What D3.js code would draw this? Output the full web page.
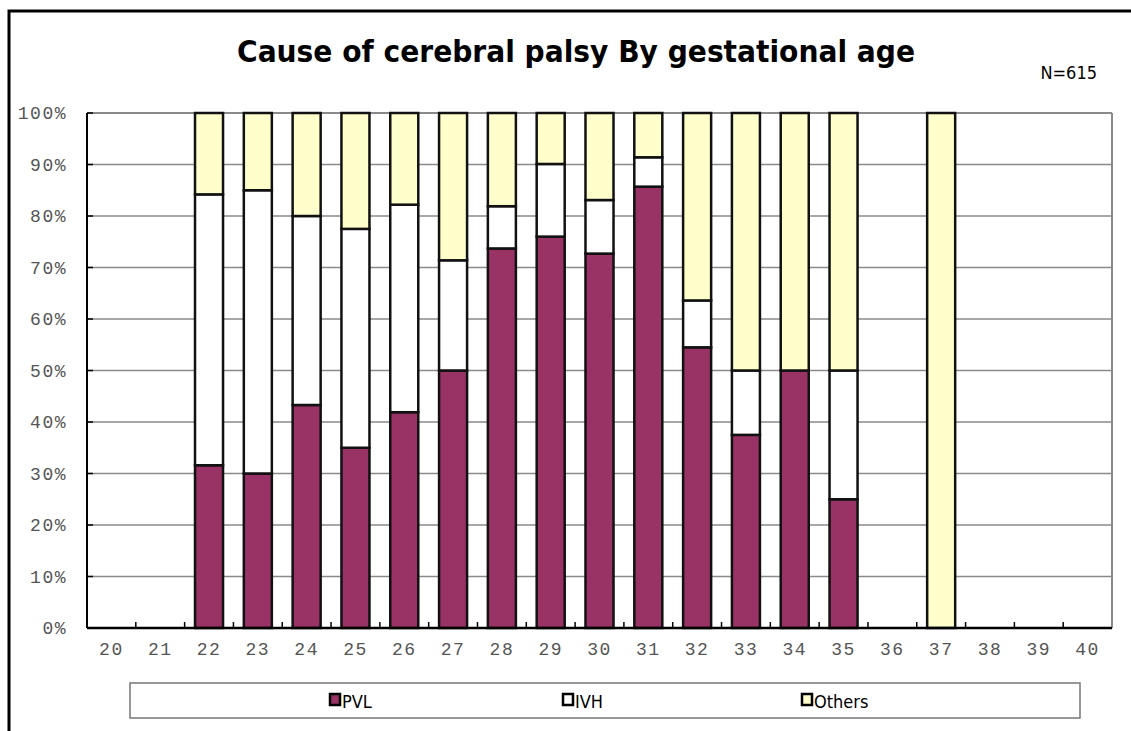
<!DOCTYPE html>
<html>
<head>
<meta charset="utf-8">
<script src="https://cdn.jsdelivr.net/npm/d3@7"></script>
<style>
  body { margin: 0; background: #fff; }
  svg { display: block; }
</style>
</head>
<body>
<div id="root"></div>
<script>
const ages = ["20","21","22","23","24","25","26","27","28","29","30","31","32","33","34","35","36","37","38","39","40"];
const pvl    = [0, 0, 31.6, 30.0, 43.3, 35.0, 41.9, 50.0, 73.7, 76.0, 72.7, 85.7, 54.5, 37.5, 50.0, 25.0, 0, 0,   0, 0, 0];
const ivh    = [0, 0, 52.6, 55.0, 36.7, 42.5, 40.3, 21.4,  8.2, 14.1, 10.4,  5.7,  9.1, 12.5,  0.0, 25.0, 0, 0,   0, 0, 0];
const others = [0, 0, 15.8, 15.0, 20.0, 22.5, 17.8, 28.6, 18.1,  9.9, 16.9,  8.6, 36.4, 50.0, 50.0, 50.0, 0, 100, 0, 0, 0];
const seriesNames = ["PVL", "IVH", "Others"];
const yTicks = [0, 10, 20, 30, 40, 50, 60, 70, 80, 90, 100];

const w = 1131;
const h = 731;
const plotLeft = 87, plotRight = 1112, plotTop = 113, plotBottom = 628;
const colors = { PVL: "#993366", IVH: "#ffffff", Others: "#ffffcc" };

const rows = ages.map((a, i) => ({ age: a, PVL: pvl[i], IVH: ivh[i], Others: others[i] }));
const stacked = d3.stack().keys(seriesNames)(rows);

const svg = d3.select("#root")
  .append("svg")
  .attr("width", w)
  .attr("height", h);

// outer chart frame
svg.append("path")
  .attr("d", `M9,${h + 5} L9,11 L${w + 5},11`)
  .attr("fill", "none")
  .attr("stroke", "#000")
  .attr("stroke-width", 3);

svg.append("text")
  .attr("x", 576)
  .attr("y", 62)
  .attr("text-anchor", "middle")
  .attr("font-family", "DejaVu Sans")
  .attr("font-weight", "bold")
  .attr("font-size", 30)
  .attr("textLength", 678)
  .attr("lengthAdjust", "spacingAndGlyphs")
  .text("Cause of cerebral palsy By gestational age");

svg.append("text")
  .attr("x", 1097)
  .attr("y", 79)
  .attr("text-anchor", "end")
  .attr("font-family", "DejaVu Sans Condensed, DejaVu Sans")
  .attr("font-size", 18)
  .text("N=615");

const xScale = d3.scaleBand()
  .domain(ages)
  .range([plotLeft, plotRight])
  .paddingInner(0.426)
  .paddingOuter(0.213);

const yScale = d3.scaleLinear()
  .domain([0, 100])
  .range([plotBottom, plotTop]);

// gridlines
svg.append("g")
  .selectAll("line")
  .data(yTicks.filter(d => d > 0))
  .enter()
  .append("line")
  .attr("x1", plotLeft)
  .attr("x2", plotRight)
  .attr("y1", d => yScale(d))
  .attr("y2", d => yScale(d))
  .attr("stroke", "#8a8a8a")
  .attr("stroke-width", 1.3);

// right and top frame lines
svg.append("line")
  .attr("x1", plotRight).attr("x2", plotRight)
  .attr("y1", plotTop).attr("y2", plotBottom)
  .attr("stroke", "#8a8a8a")
  .attr("stroke-width", 2);
svg.append("line")
  .attr("x1", plotLeft).attr("x2", plotRight)
  .attr("y1", plotTop).attr("y2", plotTop)
  .attr("stroke", "#8a8a8a")
  .attr("stroke-width", 2);

// stacked bars
svg.append("g")
  .selectAll("g")
  .data(stacked)
  .enter()
  .append("g")
  .attr("fill", d => colors[d.key])
  .selectAll("rect")
  .data(d => d.filter(s => s[1] - s[0] > 0))
  .enter()
  .append("rect")
  .attr("x", d => xScale(d.data.age))
  .attr("y", d => yScale(d[1]))
  .attr("width", xScale.bandwidth())
  .attr("height", d => yScale(d[0]) - yScale(d[1]))
  .attr("stroke", "#111")
  .attr("stroke-width", 2.5);

// axes
const yAxis = d3.axisLeft(yScale)
  .tickValues(yTicks)
  .tickSize(0)
  .tickPadding(20)
  .tickFormat(d => d + "%");

const yg = svg.append("g")
  .attr("transform", `translate(${plotLeft}, 0)`)
  .call(yAxis);
yg.select(".domain").remove();
yg.selectAll("text")
  .attr("font-family", "Liberation Mono")
  .attr("font-size", 18)
  .attr("letter-spacing", 1.5)
  .attr("fill", "#555");

svg.append("g")
  .selectAll("line")
  .data(yTicks)
  .enter()
  .append("line")
  .attr("x1", plotLeft)
  .attr("x2", plotLeft + 6)
  .attr("y1", d => yScale(d))
  .attr("y2", d => yScale(d))
  .attr("stroke", "#000")
  .attr("stroke-width", 1.5);

const xAxis = d3.axisBottom(xScale)
  .tickSize(0)
  .tickPadding(14);

const xg = svg.append("g")
  .attr("transform", `translate(0, ${plotBottom})`)
  .call(xAxis);
xg.select(".domain").remove();
xg.selectAll("text")
  .attr("font-family", "Liberation Mono")
  .attr("font-size", 18)
  .attr("letter-spacing", 1.5)
  .attr("fill", "#555");

// category boundary ticks
const step = xScale.step();
svg.append("g")
  .selectAll("line")
  .data(ages.slice(1))
  .enter()
  .append("line")
  .attr("x1", d => xScale(d) - step * 0.213)
  .attr("x2", d => xScale(d) - step * 0.213)
  .attr("y1", plotBottom)
  .attr("y2", plotBottom - 6)
  .attr("stroke", "#000")
  .attr("stroke-width", 1.5);

svg.append("line")
  .attr("x1", plotLeft).attr("x2", plotLeft)
  .attr("y1", plotTop).attr("y2", plotBottom)
  .attr("stroke", "#000")
  .attr("stroke-width", 2);
svg.append("line")
  .attr("x1", plotLeft).attr("x2", plotRight)
  .attr("y1", plotBottom).attr("y2", plotBottom)
  .attr("stroke", "#000")
  .attr("stroke-width", 2.5);

// legend
const legendGroup = svg.append("g").attr("id", "legend");
legendGroup.append("rect")
  .attr("x", 130)
  .attr("y", 683)
  .attr("width", 950)
  .attr("height", 35)
  .attr("fill", "#fff")
  .attr("stroke", "#777")
  .attr("stroke-width", 1.5);

const legendX = [330, 563, 802];
legendGroup.selectAll(".legend-color")
  .data(seriesNames)
  .enter()
  .append("rect")
  .attr("class", "legend-color")
  .attr("x", (d, i) => legendX[i])
  .attr("y", 694)
  .attr("width", 10)
  .attr("height", 11)
  .attr("fill", d => colors[d])
  .attr("stroke", "#000")
  .attr("stroke-width", 2.5);

legendGroup.selectAll(".legend-text")
  .data(seriesNames)
  .enter()
  .append("text")
  .attr("class", "legend-text")
  .attr("x", (d, i) => legendX[i] + 12)
  .attr("y", 708)
  .attr("font-family", "DejaVu Sans Condensed, DejaVu Sans")
  .attr("font-size", 18)
  .text(d => d);
</script>
</body>
</html>
